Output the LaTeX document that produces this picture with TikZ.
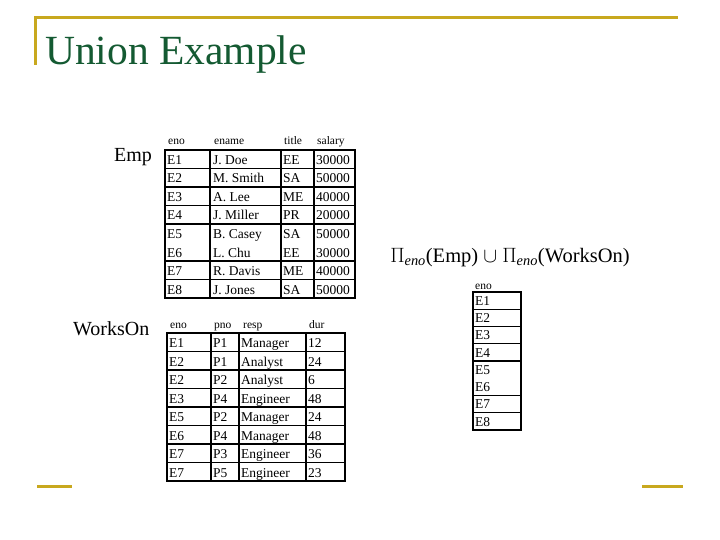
\documentclass[tikz,border=0pt]{standalone}
\usepackage{fontspec}
\setmainfont{Liberation Serif}
\definecolor{gold}{RGB}{200,168,30}
\definecolor{titlegreen}{RGB}{20,90,50}
\begin{document}
\begin{tikzpicture}[x=1pt,y=-1pt,
  cell/.style={anchor=base west,inner sep=0pt,font=\fontsize{13.5}{13.5}\selectfont},
  hdr/.style={anchor=base west,inner sep=0pt,font=\fontsize{11.5}{11.5}\selectfont},
  lbl/.style={anchor=base west,inner sep=0pt,font=\fontsize{20}{20}\selectfont},
  grid/.style={line width=1.3pt},
  deco/.style={gold,line width=3pt}]
\useasboundingbox (0,0) rectangle (720,540);
% decoration
\draw[deco] (35,18) -- (678,18);
\draw[deco] (35,16.5) -- (35,65);
\draw[deco] (37,486) -- (72,486);
\draw[deco] (642,486) -- (683,486);
\node[anchor=base west,inner sep=0pt,text=titlegreen,font=\fontsize{41.5}{41.5}\selectfont] (title) at (45,65) {Union Example};
% Emp
\node[lbl] (emplbl) at (114,162) {Emp};
\foreach \x/\t in {168/eno,214/ename,284/title,317/salary}
  \node[hdr] (eh\t) at (\x,145) {\t};
\draw[grid] (165,150) rectangle (355,298);
\foreach \x in {210,281,314} \draw[grid] (\x,150) -- (\x,298);
\foreach \i in {1,2,3,4,6,7} \draw[grid] (165,150+18.5*\i) -- (355,150+18.5*\i);
\foreach \a/\b/\c/\d [count=\i] in {E1/J. Doe/EE/30000,E2/M. Smith/SA/50000,E3/A. Lee/ME/40000,E4/J. Miller/PR/20000,E5/B. Casey/SA/50000,E6/L. Chu/EE/30000,E7/R. Davis/ME/40000,E8/J. Jones/SA/50000}{
  \node[cell] (ea\i) at (167,146+18.5*\i) {\a};
  \node[cell] (eb\i) at (213,146+18.5*\i) {\b};
  \node[cell] (ec\i) at (283,146+18.5*\i) {\c};
  \node[cell] (ed\i) at (316,146+18.5*\i) {\d};
}
% WorksOn
\node[lbl] (wolbl) at (73,335) {WorksOn};
\foreach \x/\t in {170/eno,214/pno,243/resp,309/dur}
  \node[hdr] (wh\t) at (\x,328) {\t};
\draw[grid] (167,333) rectangle (345,481);
\foreach \x in {211,239,306} \draw[grid] (\x,333) -- (\x,481);
\foreach \i in {1,...,7} \draw[grid] (167,333+18.5*\i) -- (345,333+18.5*\i);
\foreach \a/\b/\c/\d [count=\i] in {E1/P1/Manager/12,E2/P1/Analyst/24,E2/P2/Analyst/6,E3/P4/Engineer/48,E5/P2/Manager/24,E6/P4/Manager/48,E7/P3/Engineer/36,E7/P5/Engineer/23}{
  \node[cell] (wa\i) at (169,329+18.5*\i) {\a};
  \node[cell] (wb\i) at (213,329+18.5*\i) {\b};
  \node[cell] (wc\i) at (241,329+18.5*\i) {\c};
  \node[cell] (wd\i) at (308,329+18.5*\i) {\d};
}
% Result
\node[anchor=base,inner sep=0pt,font=\fontsize{20.5}{20.5}\selectfont] (formula) at (510,262)
  {$\Pi_{\mathit{eno}}$(Emp) $\cup$ $\Pi_{\mathit{eno}}$(WorksOn)};
\node[hdr] (rh) at (475,289) {eno};
\draw[grid] (473,292) rectangle (521,430);
\foreach \i in {1,2,3,4,6,7} \draw[grid] (473,292+17.25*\i) -- (521,292+17.25*\i);
\foreach \a [count=\i] in {E1,E2,E3,E4,E5,E6,E7,E8}
  \node[cell] (r\i) at (475,288+17.25*\i) {\a};
\end{tikzpicture}
\end{document}
